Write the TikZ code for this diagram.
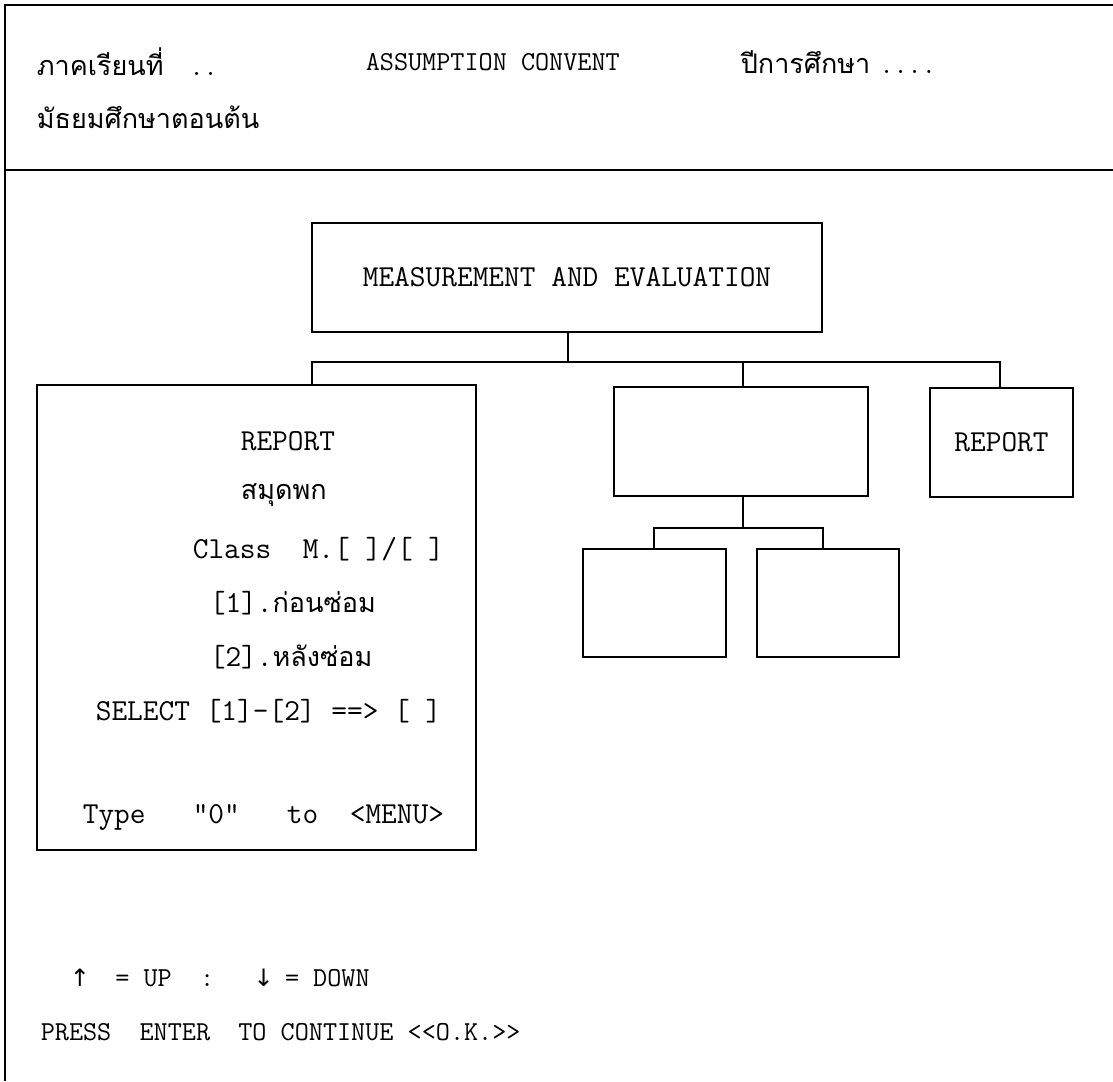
\documentclass[tikz,border=0pt]{standalone}
\usepackage{fontspec}
\setmonofont{Latin Modern Mono}
\newfontfamily\thaifont[Script=Thai]{Loma}
\newfontfamily\arrowf{DejaVu Sans}
\newcommand\colarrow[1]{\makebox[14.4pt][c]{\arrowf\fontsize{24}{24}\selectfont #1}}
\begin{document}
\begin{tikzpicture}[x=1pt,y=-1pt,line width=1.6pt,
  box/.style={draw,rectangle,inner sep=0pt},
  txt/.style={anchor=west,inner sep=0pt},
  small/.style={font=\ttfamily\fontsize{27.4}{27.4}\selectfont},
  big/.style={font=\ttfamily\fontsize{30.5}{30.5}\selectfont},
  th/.style={font=\thaifont\fontsize{27}{27}\selectfont}]
\useasboundingbox (0,0) rectangle (1113,1081);
% outer frame
\coordinate (fTL) at (5,5);
\coordinate (fTR) at (1113,5);
\coordinate (fBL) at (5,1081);
\coordinate (dL) at (5,170);
\coordinate (dR) at (1113,170);
\draw (fTR) -- (fTL) -- (fBL);
\draw (dL) -- (dR);
% header
\node[txt,th] (h1) at (36,62) {ภาคเรียนที่\hspace{26pt}{\ttfamily\fontsize{27.4}{27.4}\selectfont..}};
\node[txt,small] (h2) at (365,62) {ASSUMPTION CONVENT};
\node[txt,th] (h3) at (740,62) {ปีการศึกษา\ {\ttfamily\fontsize{27.4}{27.4}\selectfont....}};
\node[txt,th] (h4) at (36,117) {มัธยมศึกษาตอนต้น};
% tree boxes
\node[box,big,minimum width=510pt,minimum height=109pt] (meas) at (567,277.5) {MEASUREMENT AND EVALUATION};
\node[box,minimum width=439pt,minimum height=465pt] (left) at (256.5,617.5) {};
\node[box,minimum width=254pt,minimum height=109pt] (mid) at (741,441.5) {};
\node[box,big,minimum width=143pt,minimum height=109pt] (right) at (1001.5,442.5) {REPORT};
\node[box,minimum width=143pt,minimum height=108pt] (s1) at (654.5,603) {};
\node[box,minimum width=142pt,minimum height=108pt] (s2) at (828,603) {};
% connectors
\coordinate (j0) at (568,362);
\coordinate (bL) at (312,362);
\coordinate (bM) at (743,362);
\coordinate (bR) at (1000,362);
\coordinate (sL) at (654,528);
\coordinate (sM) at (743,528);
\coordinate (sR) at (823,528);
\draw (j0 |- meas.south) -- (j0);
\draw (bL |- left.north) -- (bL) -- (bR) -- (bR |- right.north);
\draw (bM) -- (bM |- mid.north);
\draw (sM |- mid.south) -- (sM);
\draw (sL |- s1.north) -- (sL) -- (sR) -- (sR |- s2.north);
% left box text
\node[txt,big] (l1) at (240,441) {REPORT};
\node[txt,th] (l2) at (240,495) {สมุดพก};
\node[txt,big] (l3) at (192,549) {Class~~M.[~]/[~]};
\node[txt,big] (l4) at (209,603) {[1].{\thaifont\fontsize{27}{27}\selectfont ก่อนซ่อม}};
\node[txt,big] (l5) at (209,657) {[2].{\thaifont\fontsize{27}{27}\selectfont หลังซ่อม}};
\node[txt,big] (l6) at (95,711) {SELECT~[1]-[2]~==>~[~]};
\node[txt,big] (l7) at (82,817) {Type~~~"0"~~~to~~<MENU>};
% footer
\node[txt,small] (f1) at (72,978) {\colarrow{↑}~~=~UP~~:~~~\colarrow{↓}~=~DOWN};
\node[txt,small] (f2) at (40,1032) {PRESS~~ENTER~~TO~CONTINUE~<<O.K.>>};
\end{tikzpicture}
\end{document}
